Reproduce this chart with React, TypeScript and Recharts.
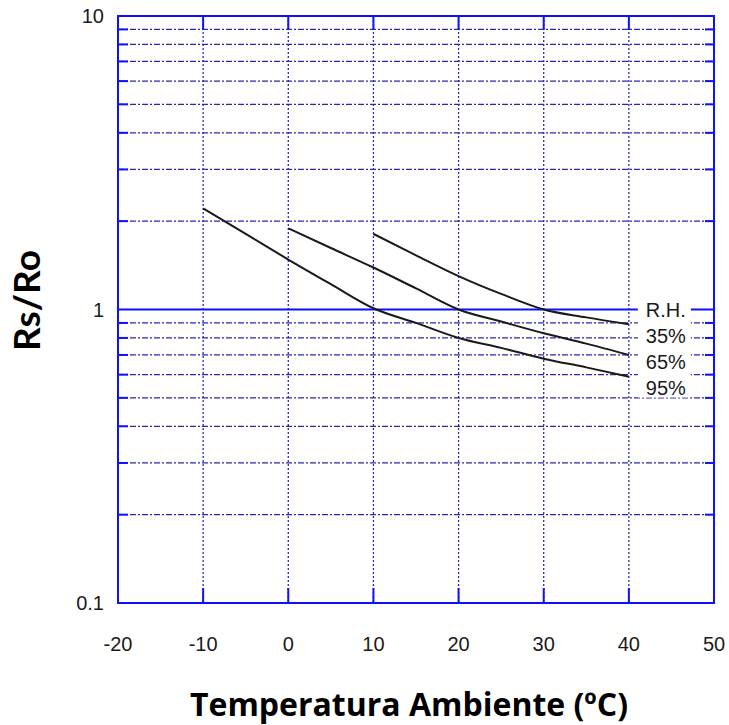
import React from 'react';
import {
  LineChart,
  Line,
  XAxis,
  YAxis,
  ReferenceLine,
  ReferenceArea,
  ReferenceDot,
} from 'recharts';

// temperatura (ºC) y Rs/Ro para cada humedad relativa
const temps = [-10, -5, 0, 5, 10, 15, 20, 25, 30, 35, 40];
const rh35 = [null, null, null, null, 1.81, 1.53, 1.3, 1.13, 1.0, 0.94, 0.89];
const rh65 = [null, null, 1.89, 1.62, 1.39, 1.18, 1.0, 0.91, 0.83, 0.765, 0.7];
const rh95 = [2.21, 1.81, 1.48, 1.22, 1.01, 0.9, 0.8, 0.74, 0.68, 0.635, 0.59];

const xTicks = [-20, -10, 0, 10, 20, 30, 40, 50];
const xGrid = [-10, 0, 10, 20, 30, 40];
const yTicks = [0.1, 1, 10];
const yMinor = [0.2, 0.3, 0.4, 0.5, 0.6, 0.7, 0.8, 0.9, 2, 3, 4, 5, 6, 7, 8, 9];
const rhLabels = ['R.H.', '35%', '65%', '95%'];

const data = temps.map((t, i) => ({ t, rh35: rh35[i], rh65: rh65[i], rh95: rh95[i] }));

const BLUE = '#1010ff';
const NAVY = '#2828b0';
const TICK_FONT = '"Liberation Sans", Arial, sans-serif';
const TITLE_FONT = '"Open Sans", Lato, sans-serif';

const HGrid = (props: any) => {
  const { x1, y1, x2 } = props;
  return (
    <g>
      <line x1={x1} y1={y1} x2={x2} y2={y1} stroke={NAVY} strokeWidth={1.3} strokeDasharray="6 2 2 2" />
      <line x1={x1} y1={y1} x2={x1 + 10} y2={y1} stroke={BLUE} strokeWidth={2} />
      <line x1={x2 - 9} y1={y1} x2={x2} y2={y1} stroke={BLUE} strokeWidth={2} />
    </g>
  );
};

const VGrid = (props: any) => {
  const { x1, y1, y2 } = props;
  const top = Math.min(y1, y2);
  const bottom = Math.max(y1, y2);
  return (
    <g>
      <line x1={x1} y1={top} x2={x1} y2={bottom} stroke={NAVY} strokeWidth={1.3} strokeDasharray="2 2" />
      <line x1={x1} y1={top} x2={x1} y2={top + 14} stroke={BLUE} strokeWidth={2} />
      <line x1={x1} y1={bottom - 15} x2={x1} y2={bottom} stroke={BLUE} strokeWidth={2} />
    </g>
  );
};

const RhBox = (props: any) => {
  const { cx, cy } = props;
  return (
    <g>
      <rect x={cx + 9} y={cy - 10} width={53} height={98} fill="#fff" />
      {rhLabels.map((s, i) => (
        <text
          key={s}
          x={cx + 17}
          y={cy + 7 + i * 26}
          fontSize={20}
          fontFamily={TICK_FONT}
          fill="#1a1a1a"
        >
          {s}
        </text>
      ))}
    </g>
  );
};

const XTitle = (props: any) => {
  const { viewBox } = props;
  return (
    <text
      x={viewBox.x + viewBox.width / 2 - 7}
      y={viewBox.y + 113}
      textAnchor="middle"
      fontSize={32}
      fontWeight="bold"
      fontFamily={TITLE_FONT}
      fill="#000"
    >
      Temperatura Ambiente (ºC)
    </text>
  );
};

const YTitle = (props: any) => {
  const { viewBox } = props;
  const x = 40;
  const y = viewBox.y + viewBox.height / 2 - 9;
  return (
    <text
      x={x}
      y={y}
      transform={`rotate(-90, ${x}, ${y})`}
      textAnchor="middle"
      fontSize={37}
      fontWeight="bold"
      fontFamily='Lato, "Open Sans", sans-serif'
      fill="#000"
    >
      Rs/Ro
    </text>
  );
};

export default function App() {
  return (
    <div style={{ position: 'absolute', left: 0, top: 0, background: '#fff' }}>
      <LineChart width={729} height={725} data={data} margin={{ top: 16, right: 15, bottom: 0, left: 0 }}>
        <XAxis
          dataKey="t"
          type="number"
          domain={[-20, 50]}
          ticks={xTicks}
          height={122}
          axisLine={false}
          tickLine={false}
          tickSize={6}
          tickMargin={28}
          tick={{ fontSize: 20, fontFamily: TICK_FONT, fill: '#1a1a1a' }}
          label={<XTitle />}
        />
        <YAxis
          type="number"
          scale="log"
          domain={[0.1, 10]}
          ticks={yTicks}
          allowDataOverflow
          width={118}
          axisLine={false}
          tickLine={false}
          tickSize={6}
          tickMargin={8}
          tickFormatter={(v) => String(v)}
          tick={{ fontSize: 20, fontFamily: TICK_FONT, fill: '#1a1a1a' }}
          label={<YTitle />}
        />
        {yMinor.map((v) => (
          <ReferenceLine key={`h${v}`} y={v} shape={<HGrid />} />
        ))}
        {xGrid.map((v) => (
          <ReferenceLine key={`v${v}`} x={v} shape={<VGrid />} />
        ))}
        <ReferenceLine y={1} stroke={BLUE} strokeWidth={2} />
        <ReferenceDot x={40} y={1} r={0} shape={<RhBox />} />
        <ReferenceArea x1={-20} x2={50} y1={0.1} y2={10} fill="none" stroke={BLUE} strokeWidth={2} fillOpacity={0} />
        <Line type="monotone" dataKey="rh35" stroke="#1a1a1a" strokeWidth={2} dot={false} isAnimationActive={false} />
        <Line type="monotone" dataKey="rh65" stroke="#1a1a1a" strokeWidth={2} dot={false} isAnimationActive={false} />
        <Line type="monotone" dataKey="rh95" stroke="#1a1a1a" strokeWidth={2} dot={false} isAnimationActive={false} />
      </LineChart>
    </div>
  );
}
